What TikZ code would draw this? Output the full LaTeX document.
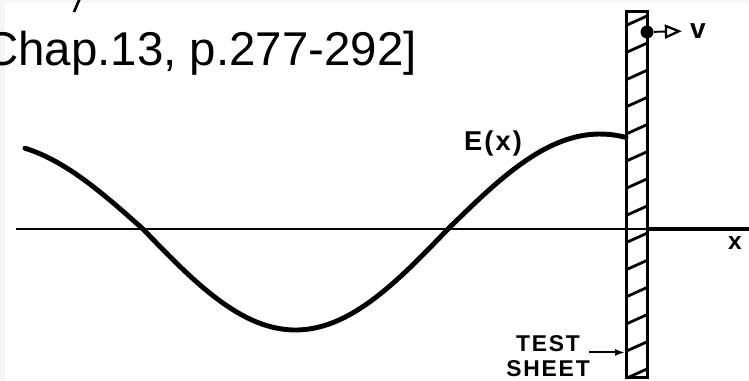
\documentclass[tikz,border=0pt]{standalone}
\usepackage{fontspec}
\setmainfont{Liberation Sans}
\newfontfamily\lettering[LetterSpace=8]{Liberation Sans Bold}
\usetikzlibrary{arrows.meta,positioning}

\begin{document}
\begin{tikzpicture}[
    x=0.02cm, y=-0.02cm,
    every node/.style={inner sep=0pt, text centered},
    wave/.style={line width=2.8pt, line cap=round},
    axis/.style={line width=1.1pt},
    sheetbox/.style={draw, line width=1.7pt, minimum width=0.42cm, minimum height=7.34cm},
    hatch/.style={line width=1.6pt},
    lettered/.style={font=\lettering\fontsize{13}{16}\selectfont}
  ]
    \useasboundingbox (0,0) rectangle (749,380);
    \clip (0,0) rectangle (749,380);
    \fill[black!4] (0,0) rectangle (749,380);
    \fill[white] (5,3) rectangle (749,380);

    % Reference line (cut off)
    \draw[line width=1.5pt] (80,-2) -- (74,12);
    \node[anchor=base west, font=\fontsize{27}{32}\selectfont] (ref) at (-16,65) {Chap.13, p.277-292]};

    % Test sheet
    \node[sheetbox] (sheet) at (637,194.5) {};
    \foreach \h in {0,...,13}
      \draw[hatch] (627,{25+27.15*\h}) -- (647,{16+27.15*\h});

    % Axis
    \coordinate (o) at (16,229);
    \coordinate (xend) at (749,229);
    \draw[axis] (o) -- (xend);
    \draw[axis, line width=2pt] (sheet.east |- o) -- (xend);
    \node[lettered, font=\lettering\fontsize{14}{17}\selectfont] (xlabel) at (735,243) {x};

    % Field
    \draw[wave] plot[domain=25:143, samples=30] (\x, {229-86*sin(0.5921*(143-\x))})
      -- plot[domain=143:448, samples=60] (\x, {229+101*sin(0.5902*(\x-143))})
      -- plot[domain=448:626, samples=40] (\x, {229-95*sin(0.5921*(\x-448))});
    \node[lettered, font=\lettering\fontsize{15.5}{19}\selectfont] (elabel) at (493,143) {E(x)};

    % Velocity
    \node[circle, fill, minimum size=0.26cm] (dot) at (647,32) {};
    \node[lettered, font=\lettering\fontsize{16}{19}\selectfont] (vlabel) at (698,31) {v};
    \draw[line width=1.1pt, -{Triangle[open, length=0.34cm, width=0.28cm, line width=1.3pt]}, shorten >=0.16cm] (dot) -- (vlabel.west);

    % Label
    \node[lettered] (test) at (548,344) {TEST};
    \node[lettered, below=0.15cm of test] (sheetword) {SHEET};
    \draw[line width=1.1pt, -{Latex[length=0.2cm, width=0.14cm]}, shorten <=0.18cm] (test.south east) -- (test.south east -| sheet.west);
  \end{tikzpicture}
\end{document}
